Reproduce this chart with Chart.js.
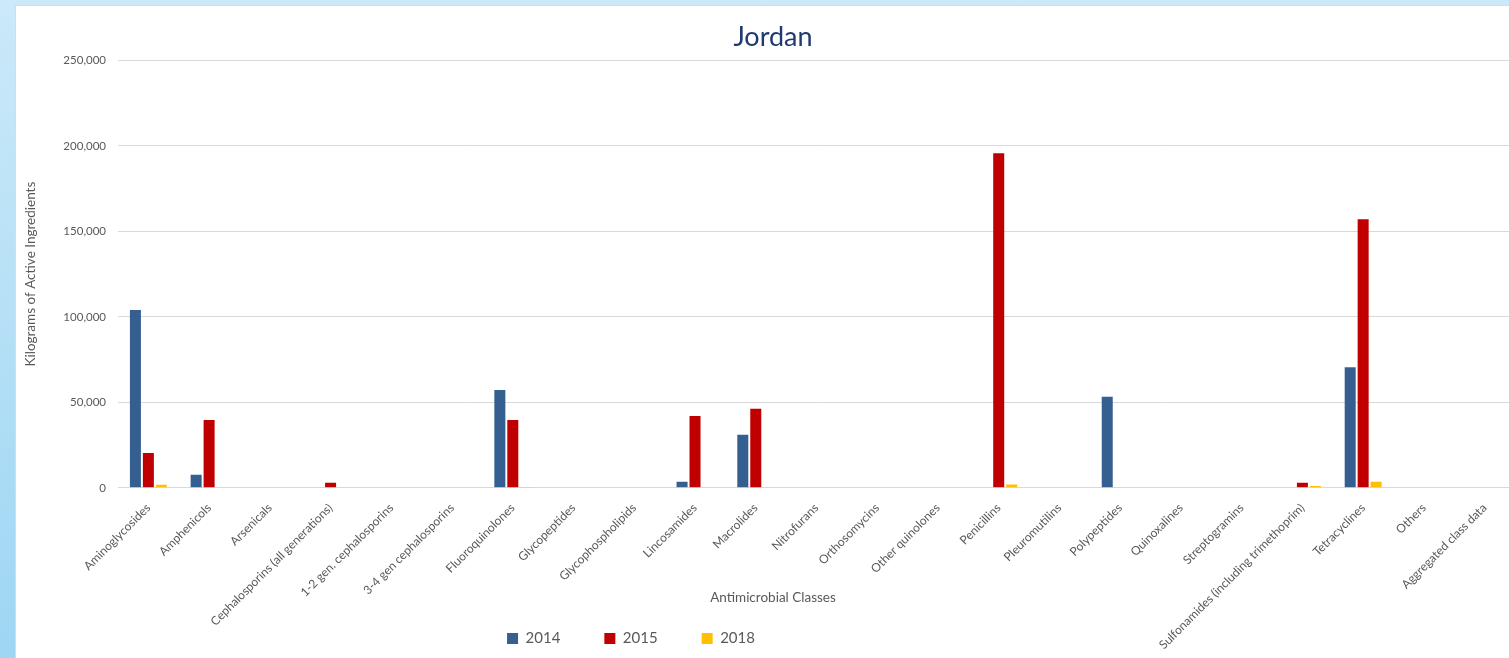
<!DOCTYPE html>
<html>
<head>
<meta charset="utf-8">
<title>Jordan</title>
<script src="https://cdn.jsdelivr.net/npm/chart.js@4"></script>
<style>
  html, body { margin: 0; padding: 0; overflow: hidden; }
  body {
    width: 1509px; height: 658px;
    background: linear-gradient(#cbe9f9, #9ed6f3);
    position: relative;
  }
  #panel {
    position: absolute; left: 15px; top: 5px;
    width: 1499px; height: 653px;
    background: #fff;
    border-left: 1px solid #d6dde2;
    border-top: 1px solid #d6dde2;
    box-sizing: border-box;
  }
  #panel canvas { position: absolute; left: 0; top: 0; }
</style>
</head>
<body>
<div id="panel"><canvas id="jordanChart" width="1499" height="653"></canvas></div>
<script>
// Antimicrobial classes on the x axis
const classes = [
  'Aminoglycosides', 'Amphenicols', 'Arsenicals', 'Cephalosporins (all generations)',
  '1-2 gen. cephalosporins', '3-4 gen cephalosporins', 'Fluoroquinolones', 'Glycopeptides',
  'Glycophospholipids', 'Lincosamides', 'Macrolides', 'Nitrofurans', 'Orthosomycins',
  'Other quinolones', 'Penicillins', 'Pleuromutilins', 'Polypeptides', 'Quinoxalines',
  'Streptogramins', 'Sulfonamides (including trimethoprim)', 'Tetracyclines', 'Others',
  'Aggregated class data'
];

// kg of active ingredients
const kg2014 = [104000, 7600, 0, 0, 0, 0, 57200, 0, 0, 3500, 31000, 0, 0, 0, 0, 0, 53300, 0, 0, 0, 70500, 0, 0];
const kg2015 = [20400, 39700, 0, 2900, 0, 0, 39700, 0, 0, 42000, 46300, 0, 0, 0, 195700, 0, 0, 0, 0, 2900, 157100, 0, 0];
const kg2018 = [1800, 0, 0, 0, 0, 0, 500, 0, 0, 0, 0, 0, 0, 0, 1900, 0, 0, 0, 0, 1000, 3500, 0, 0];

const yearLabels = ['2014', '2015', '2018'];
const yTicks = [0, 50000, 100000, 150000, 200000, 250000];

const grey = '#595959';
const font = 'Lato, "Open Sans", sans-serif';

// a few layout tweaks after Chart.js has placed the boxes:
// legend sits left of centre, rotated x labels may run past the axis box,
// y title hugs the left edge
const layoutTweaks = {
  id: 'layoutTweaks',
  afterLayout(chart) {
    const lg = chart.legend;
    lg.left -= 142;
    lg.right -= 142;
    lg.top -= 38;
    chart.scales.x.bottom = chart.height;
    chart.scales.y.left = 0;
  }
};

new Chart(document.getElementById('jordanChart'), {
  type: 'bar',
  data: {
    labels: classes,
    datasets: [
      { label: yearLabels[0], data: kg2014, backgroundColor: '#365F91' },
      { label: yearLabels[1], data: kg2015, backgroundColor: '#C00000' },
      { label: yearLabels[2], data: kg2018, backgroundColor: '#FFC000' }
    ]
  },
  options: {
    responsive: false,
    animation: false,
    layout: { padding: { left: 15, right: 0, top: 0, bottom: 0 } },
    datasets: { bar: { categoryPercentage: 0.64, barPercentage: 0.85 } },
    plugins: {
      title: {
        display: true,
        text: 'Jordan',
        color: '#1F3A6E',
        font: { family: font, size: 27, weight: 'normal' },
        padding: { top: 15, bottom: 7 }
      },
      subtitle: {
        display: true,
        text: 'Antimicrobial Classes',
        position: 'bottom',
        weight: 500,
        color: grey,
        font: { family: font, size: 13.5 },
        padding: { top: 7, bottom: 19 }
      },
      legend: {
        position: 'bottom',
        maxHeight: 34,
        labels: {
          color: grey,
          font: { family: font, size: 15 },
          boxWidth: 11,
          boxHeight: 11,
          padding: 44
        }
      },
      tooltip: { enabled: false }
    },
    scales: {
      x: {
        grid: { display: false },
        border: { color: '#D9D9D9' },
        ticks: {
          color: grey,
          font: { family: font, size: 12 },
          maxRotation: 45,
          minRotation: 45,
          autoSkip: false,
          padding: 5
        },
        afterFit(scale) { scale.height = 95; }
      },
      y: {
        min: 0,
        max: 250000,
        afterBuildTicks(scale) { scale.ticks = yTicks.map(v => ({ value: v })); },
        grid: { color: '#D9D9D9', drawTicks: false },
        border: { display: false },
        ticks: {
          color: grey,
          font: { family: font, size: 11.5 },
          padding: 12,
          callback: v => v.toLocaleString('en-US')
        },
        title: {
          display: true,
          text: 'Kilograms of Active Ingredients',
          color: grey,
          font: { family: font, size: 13.5 },
          padding: { top: 7, bottom: 0 }
        },
        afterFit(scale) { scale.width = 87; }
      }
    }
  },
  plugins: [layoutTweaks]
});
</script>
</body>
</html>
